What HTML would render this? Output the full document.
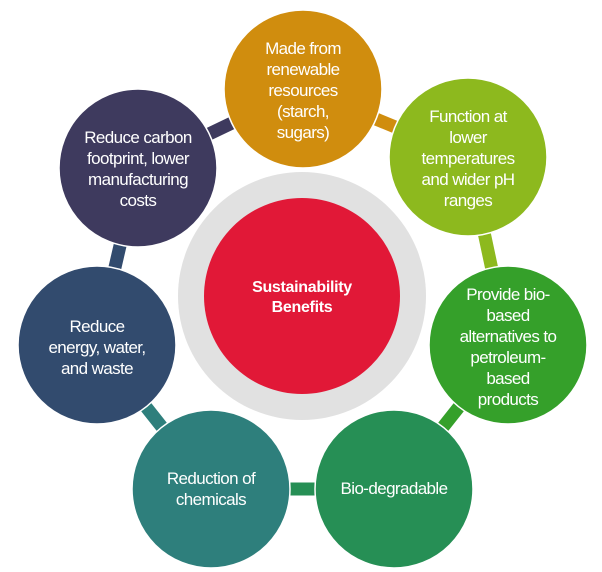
<!DOCTYPE html>
<html><head><meta charset="utf-8"><style>
html,body{margin:0;padding:0;background:#fff;}
svg{display:block;}
text{font-family:"Liberation Sans",Arial,sans-serif;fill:#fff;font-size:17px;text-anchor:middle;letter-spacing:-0.6px;}
</style></head><body>
<svg width="602" height="572" viewBox="0 0 602 572" xmlns="http://www.w3.org/2000/svg">
<g stroke-width="13">
<line x1="138" y1="168" x2="303" y2="89" stroke="#3E3A5E"/>
<line x1="303" y1="89" x2="468" y2="157" stroke="#D08D0E"/>
<line x1="468" y1="157" x2="508" y2="345" stroke="#8DB91E"/>
<line x1="508" y1="345" x2="394" y2="489" stroke="#35A02A"/>
<line x1="394" y1="489" x2="211" y2="489" stroke="#268F55"/>
<line x1="211" y1="489" x2="97" y2="345" stroke="#2E7F7C"/>
<line x1="97" y1="345" x2="138" y2="168" stroke="#324B6E"/>
</g>
<circle cx="302" cy="296" r="124" fill="#E1E1E1"/>
<circle cx="302" cy="296" r="98" fill="#E11837"/>
<text x="302" y="292" font-weight="bold" style="font-size:16px;letter-spacing:-0.3px">Sustainability</text>
<text x="302" y="312" font-weight="bold" style="font-size:16px;letter-spacing:-0.3px">Benefits</text>
<g stroke="#fff" stroke-width="1.5">
<circle cx="138" cy="168" r="79" fill="#3E3A5E"/>
<circle cx="303" cy="89" r="79" fill="#D08D0E"/>
<circle cx="468" cy="157" r="79" fill="#8DB91E"/>
<circle cx="508" cy="345" r="79" fill="#35A02A"/>
<circle cx="394" cy="489" r="79" fill="#268F55"/>
<circle cx="211" cy="489" r="79" fill="#2E7F7C"/>
<circle cx="97" cy="345" r="79" fill="#324B6E"/>
</g>
<text x="138" y="143">Reduce carbon</text>
<text x="138" y="164">footprint, lower</text>
<text x="138" y="185">manufacturing</text>
<text x="138" y="206">costs</text>
<text x="303" y="54">Made from</text>
<text x="303" y="75">renewable</text>
<text x="303" y="96">resources</text>
<text x="303" y="117">(starch,</text>
<text x="303" y="138">sugars)</text>
<text x="468" y="122">Function at</text>
<text x="468" y="143">lower</text>
<text x="468" y="164">temperatures</text>
<text x="468" y="185">and wider pH</text>
<text x="468" y="206">ranges</text>
<text x="508" y="300">Provide bio-</text>
<text x="508" y="321">based</text>
<text x="508" y="342">alternatives to</text>
<text x="508" y="363">petroleum-</text>
<text x="508" y="384">based</text>
<text x="508" y="405">products</text>
<text x="394" y="494">Bio-degradable</text>
<text x="211" y="484">Reduction of</text>
<text x="211" y="505">chemicals</text>
<text x="97" y="332">Reduce</text>
<text x="97" y="353">energy, water,</text>
<text x="97" y="374">and waste</text>
</svg>
</body></html>
